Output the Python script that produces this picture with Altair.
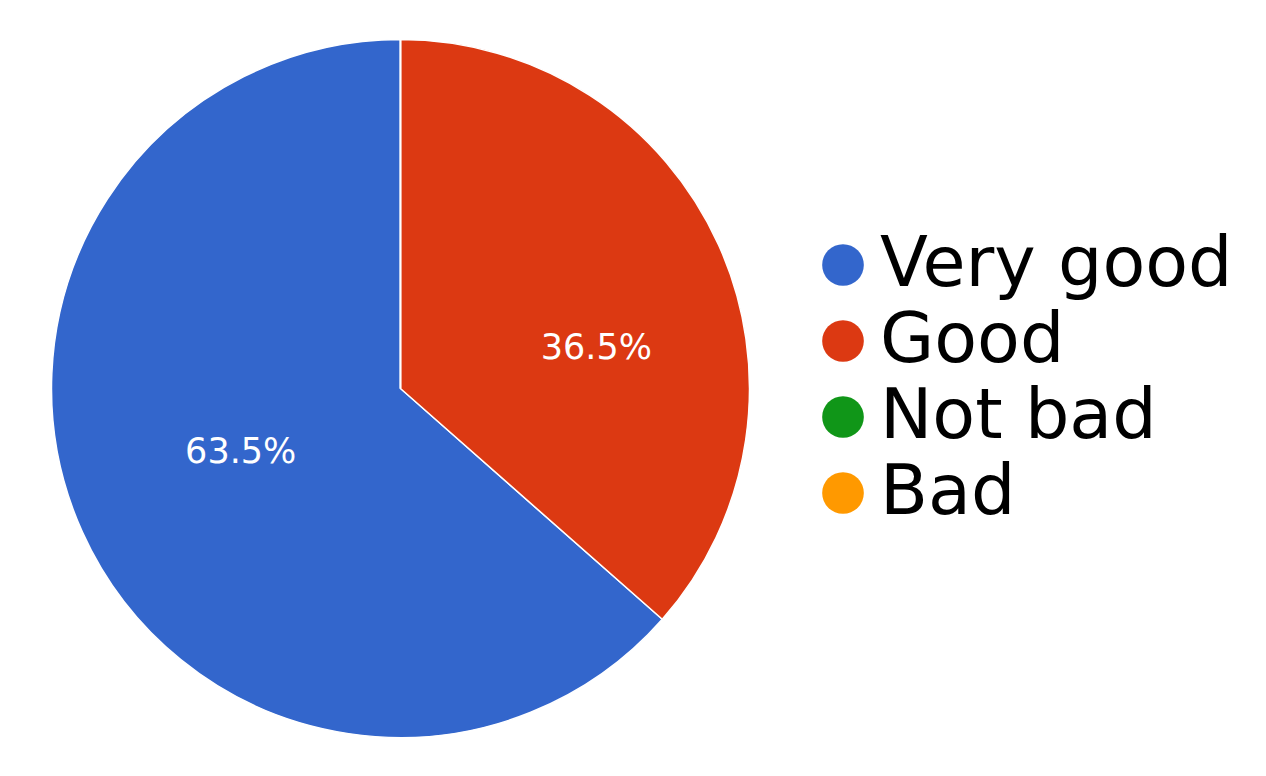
import altair as alt
import pandas as pd

categories = ["Very good", "Good", "Not bad", "Bad"]
values = [63.5, 36.5, 0.0, 0.0]
slice_order = [1, 0, 2, 3]
colors = ["#3366CC", "#DC3912", "#109618", "#FF9900"]

df = pd.DataFrame({"category": categories, "value": values, "ord": slice_order})
df["label"] = [f"{v:.1f}%" for v in values]

base = alt.Chart(df).encode(
    theta=alt.Theta("value:Q", stack=True),
    order=alt.Order("ord:Q"),
)

pie = base.mark_arc(outerRadius=349, stroke="white", strokeWidth=1.5).encode(
    color=alt.Color(
        "category:N",
        scale=alt.Scale(domain=categories, range=colors),
        sort=categories,
        legend=alt.Legend(
            title=None,
            orient="none",
            legendX=795,
            legendY=217,
            symbolType="circle",
            symbolSize=1735,
            symbolStrokeWidth=0,
            labelFontSize=70,
            labelFont="DejaVu Sans",
            labelColor="#000000",
            labelOffset=2,
            rowPadding=6,
            padding=0,
            labelLimit=600,
        ),
    )
)

label_good = (
    base.mark_text(radius=200, thetaOffset=0.22, color="white", fontSize=35, font="DejaVu Sans")
    .transform_calculate(t="datum.category == 'Good' ? datum.label : ''")
    .encode(text="t:N")
)

label_vgood = (
    base.mark_text(radius=172, thetaOffset=0.045, color="white", fontSize=35, font="DejaVu Sans")
    .transform_calculate(t="datum.category == 'Very good' ? datum.label : ''")
    .encode(text="t:N")
)

chart = (
    (pie + label_good + label_vgood)
    .properties(width=775, height=751)
    .configure_view(stroke=None)
)

chart.save("out.html", embed_options={"renderer": "svg", "actions": False})
